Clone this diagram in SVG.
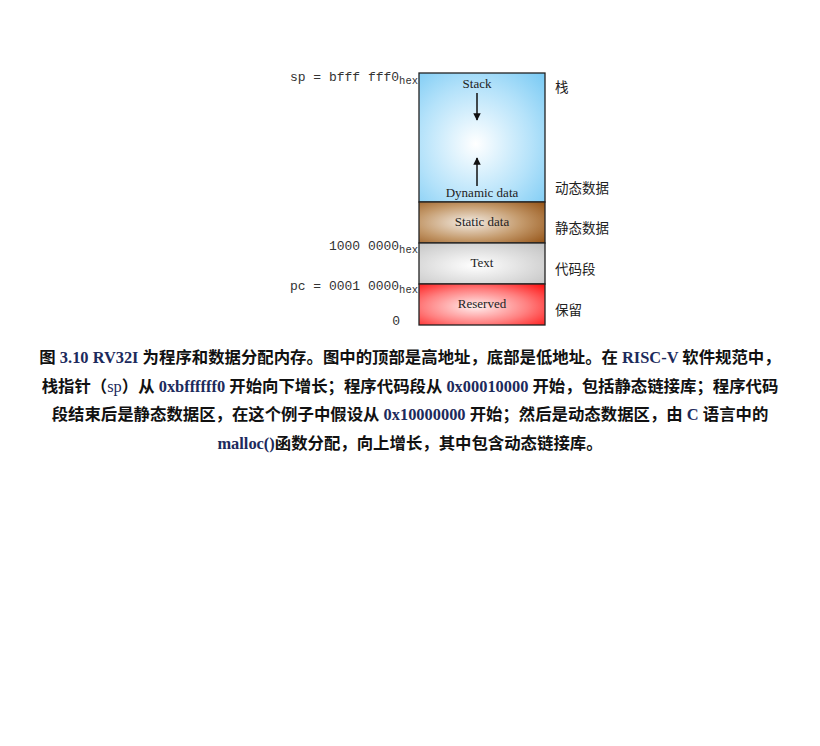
<svg xmlns="http://www.w3.org/2000/svg" width="820" height="746" viewBox="0 0 820 746">
<style>
.mono{font-family:"Liberation Mono","DejaVu Sans Mono",monospace;font-size:13px;fill:#333;text-anchor:end}
.sub{font-size:10.5px}
.seg{font-family:"Liberation Serif",serif;font-size:13px;fill:#222;text-anchor:middle}
.cn{font-family:"Noto Sans CJK SC",sans-serif;font-size:13.5px;fill:#222}
.cap{font-family:"Liberation Serif","Noto Sans CJK SC",serif;font-size:16.4px;font-weight:bold;fill:#111;text-anchor:middle}
.lat{fill:#1c2a5c}
.box{stroke:#222;stroke-width:1.3}
</style>
<defs>
<radialGradient id="gBlue" cx="0.45" cy="0.55" r="0.75"><stop offset="0" stop-color="#ffffff"/><stop offset="0.6" stop-color="#b4e2fa"/><stop offset="1" stop-color="#7ccbf4"/></radialGradient>
<radialGradient id="gBrown" cx="0.4" cy="0.5" r="0.75"><stop offset="0" stop-color="#f3ece4"/><stop offset="0.55" stop-color="#c49a6c"/><stop offset="1" stop-color="#98581c"/></radialGradient>
<radialGradient id="gGrey" cx="0.45" cy="0.55" r="0.75"><stop offset="0" stop-color="#ffffff"/><stop offset="1" stop-color="#c2c2c2"/></radialGradient>
<radialGradient id="gRed" cx="0.45" cy="0.55" r="0.75"><stop offset="0" stop-color="#fff0f0"/><stop offset="0.55" stop-color="#ff8080"/><stop offset="1" stop-color="#ff1414"/></radialGradient>
<marker id="ah" viewBox="0 0 10 10" refX="9" refY="5" markerWidth="5" markerHeight="5" orient="auto"><path d="M0,0 L10,5 L0,10 z" fill="#111"/></marker>
</defs>
<g id="stack"><rect class="box" x="419" y="73" width="126" height="129" fill="url(#gBlue)"/><text class="seg" x="477" y="88">Stack</text><text class="seg" x="482" y="197">Dynamic data</text></g>
<g id="static"><rect class="box" x="419" y="202" width="126" height="41" fill="url(#gBrown)"/><text class="seg" x="482" y="226">Static data</text></g>
<g id="text"><rect class="box" x="419" y="243" width="126" height="41" fill="url(#gGrey)"/><text class="seg" x="482" y="267">Text</text></g>
<g id="reserved"><rect class="box" x="419" y="284" width="126" height="41" fill="url(#gRed)"/><text class="seg" x="482" y="308">Reserved</text></g>
<g id="connectors" stroke="#111" stroke-width="1.5" marker-end="url(#ah)"><line x1="477" y1="93" x2="477" y2="120"/><line x1="477" y1="186" x2="477" y2="158"/></g>
<g id="left-labels">
<text class="mono" x="418" y="81">sp = bfff fff0<tspan class="sub" dy="3">hex</tspan></text>
<text class="mono" x="418" y="250">1000 0000<tspan class="sub" dy="3">hex</tspan></text>
<text class="mono" x="418" y="290">pc = 0001 0000<tspan class="sub" dy="3">hex</tspan></text>
<text class="mono" x="400" y="325">0</text>
</g>
<g id="right-labels">
<text class="cn" x="555" y="92">栈</text>
<text class="cn" x="555" y="193">动态数据</text>
<text class="cn" x="555" y="233">静态数据</text>
<text class="cn" x="555" y="274">代码段</text>
<text class="cn" x="555" y="315">保留</text>
</g>
<g id="caption">
<text class="cap" x="410" y="363">图 <tspan class="lat">3.10 RV32I</tspan> 为程序和数据分配内存。图中的顶部是高地址，底部是低地址。在 <tspan class="lat">RISC-V</tspan> 软件规范中，</text>
<text class="cap" x="410" y="392">栈指针（<tspan class="lat" font-weight="normal">sp</tspan>）从 <tspan class="lat">0xbffffff0</tspan> 开始向下增长；程序代码段从 <tspan class="lat">0x00010000</tspan> 开始，包括静态链接库；程序代码</text>
<text class="cap" x="410" y="420">段结束后是静态数据区，在这个例子中假设从 <tspan class="lat">0x10000000</tspan> 开始；然后是动态数据区，由 <tspan class="lat">C</tspan> 语言中的</text>
<text class="cap" x="410" y="449"><tspan class="lat">malloc()</tspan>函数分配，向上增长，其中包含动态链接库。</text>
</g>
</svg>
